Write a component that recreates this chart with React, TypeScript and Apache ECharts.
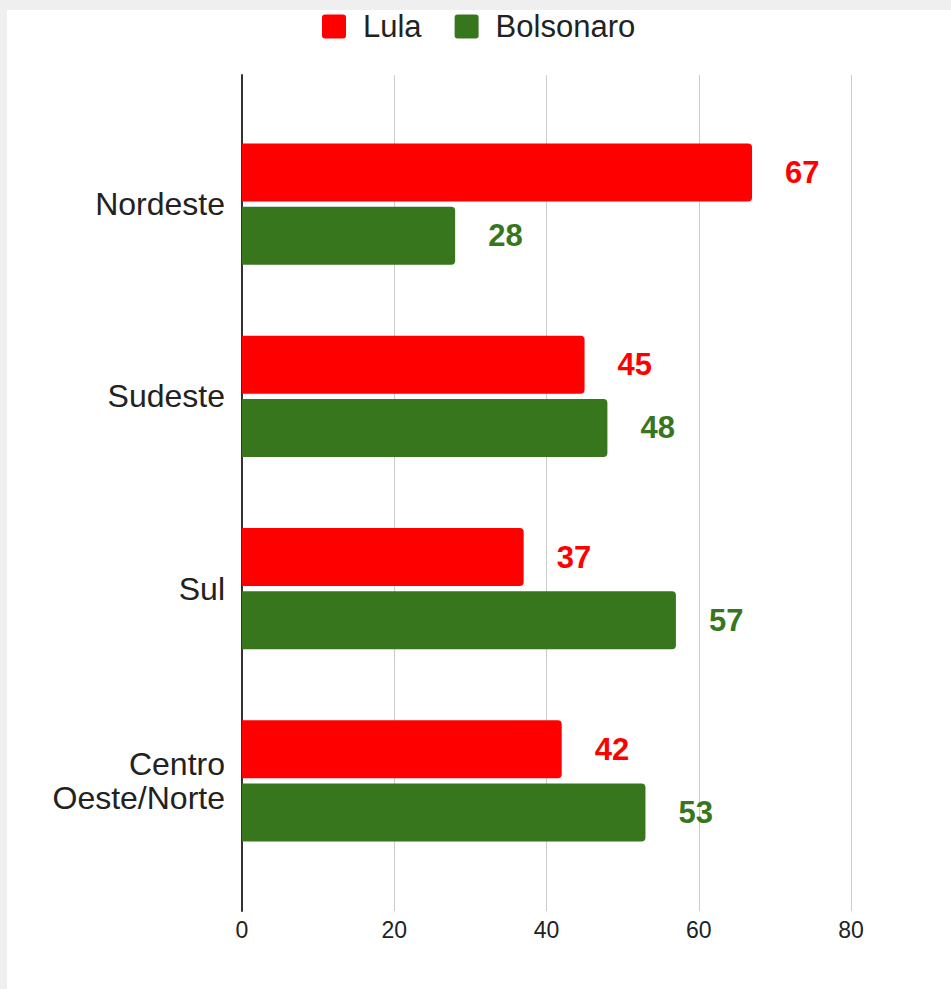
import React, { useEffect, useRef } from "react";
import * as echarts from "echarts";

const categories = ["Nordeste", "Sudeste", "Sul", "Centro\nOeste/Norte"];
const lulaValues = [67, 45, 37, 42];
const bolsonaroValues = [28, 48, 57, 53];
const xTicks = { min: 0, max: 80, interval: 20 };

const RED = "#ff0000";
const GREEN = "#38761d";
const FONT = "Liberation Sans, Arial, sans-serif";

export default function App() {
  const ref = useRef<HTMLDivElement>(null);
  useEffect(() => {
    document.body.style.margin = "0";
    const chart = echarts.init(ref.current!, null, { renderer: "svg" });
    const labelStyle = (color: string) => ({
      show: true,
      position: "right" as const,
      distance: 33,
      color,
      fontSize: 31,
      fontWeight: "bold" as const,
      fontFamily: FONT,
    });
    chart.setOption({
      animation: false,
      backgroundColor: "#efefef",
      graphic: [
        {
          type: "rect",
          z: -10,
          shape: { x: 7, y: 10, width: 944, height: 979 },
          style: { fill: "#ffffff" },
          silent: true,
        },
      ],
      legend: {
        data: ["Lula", "Bolsonaro"],
        left: 322,
        top: 11,
        padding: 0,
        itemWidth: 24,
        itemHeight: 24,
        itemGap: 33,
        icon: "path://M3,0 L21,0 Q24,0 24,3 L24,21 Q24,24 21,24 L3,24 Q0,24 0,21 L0,3 Q0,0 3,0 Z",
        textStyle: {
          fontSize: 31,
          lineHeight: 30,
          color: "#222",
          fontFamily: FONT,
          padding: [0, 0, 0, 12],
        },
      },
      grid: [
        { left: 242, right: 100, top: 108, bottom: 112 },
        { left: 242, right: 100, top: 75, bottom: 78 },
      ],
      xAxis: [
        {
          gridIndex: 0,
          type: "value",
          ...xTicks,
          show: false,
          splitLine: { show: false },
        },
        {
          gridIndex: 1,
          type: "value",
          ...xTicks,
          axisLine: { show: false },
          axisTick: { show: false },
          splitLine: { show: true, lineStyle: { color: "#cccccc", width: 1 } },
          axisLabel: {
            fontSize: 23,
            color: "#222",
            margin: 7,
            fontFamily: FONT,
          },
        },
      ],
      yAxis: [
        {
          gridIndex: 0,
          type: "category",
          data: categories,
          inverse: true,
          axisLine: { show: false },
          axisTick: { show: false },
          splitLine: { show: false },
          axisLabel: {
            fontSize: 32,
            color: "#222",
            margin: 17,
            lineHeight: 34,
            align: "right",
            fontFamily: FONT,
          },
        },
        {
          gridIndex: 1,
          type: "value",
          min: 0,
          max: 1,
          axisLabel: { show: false },
          axisTick: { show: false },
          splitLine: { show: false },
          axisLine: { show: true, lineStyle: { color: "#333333", width: 2 } },
        },
      ],
      series: [
        {
          name: "Lula",
          type: "bar",
          xAxisIndex: 0,
          yAxisIndex: 0,
          data: lulaValues,
          barWidth: 58,
          barGap: "9%",
          itemStyle: { color: RED, borderRadius: [0, 4, 4, 0] },
          label: labelStyle(RED),
        },
        {
          name: "Bolsonaro",
          type: "bar",
          xAxisIndex: 0,
          yAxisIndex: 0,
          data: bolsonaroValues,
          barWidth: 58,
          barGap: "9%",
          itemStyle: { color: GREEN, borderRadius: [0, 4, 4, 0] },
          label: labelStyle(GREEN),
        },
      ],
    });
    return () => chart.dispose();
  }, []);
  return <div ref={ref} style={{ width: 951, height: 989 }} />;
}
